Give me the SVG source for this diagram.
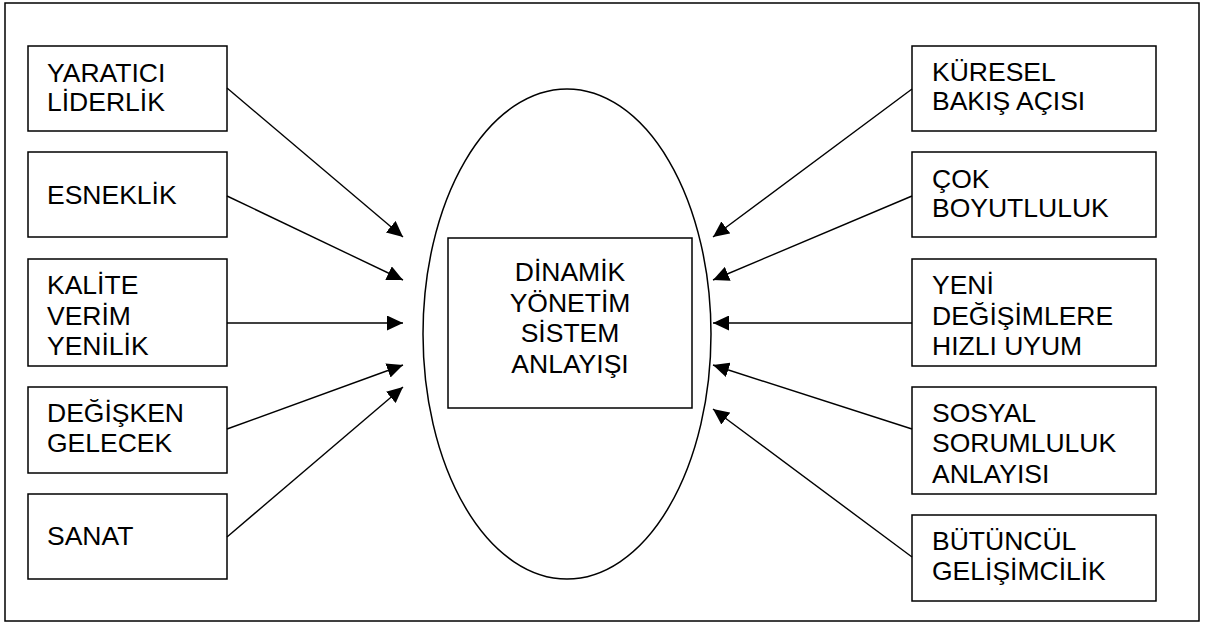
<svg xmlns="http://www.w3.org/2000/svg" width="1210" height="623" viewBox="0 0 1210 623">
  <style>
    .frame { fill: #ffffff; stroke: #000000; stroke-width: 1.5; }
    .box { fill: #ffffff; stroke: #000000; stroke-width: 1.5; }
    .oval { fill: #ffffff; stroke: #000000; stroke-width: 1.5; }
    .lbl { font-family: "Liberation Sans", Arial, sans-serif; font-size: 26.5px; fill: #000000; }
    .mid { text-anchor: middle; }
    .arrow { fill: none; stroke: #000000; stroke-width: 1.4; marker-end: url(#head); }
  </style>
  <defs>
    <marker id="head" markerUnits="userSpaceOnUse" markerWidth="17" markerHeight="15" refX="16" refY="7.5" orient="auto">
      <path d="M0,0 L16,7.5 L0,15 Z" fill="#000000"/>
    </marker>
  </defs>

  <rect class="frame" x="5" y="3" width="1194" height="618"/>

  <!-- central concept -->
  <g id="center">
    <ellipse class="oval" cx="567" cy="334" rx="144" ry="245"/>
    <rect class="box" x="448" y="238" width="244" height="170"/>
    <text class="lbl mid" x="570" y="281">DİNAMİK</text>
    <text class="lbl mid" x="570" y="312">YÖNETİM</text>
    <text class="lbl mid" x="570" y="342">SİSTEM</text>
    <text class="lbl mid" x="570" y="373">ANLAYIŞI</text>
  </g>

  <!-- left column -->
  <g id="yaratici-liderlik">
    <rect class="box" x="28" y="46" width="199" height="85"/>
    <text class="lbl" x="47" y="82">YARATICI</text>
    <text class="lbl" x="47" y="111">LİDERLİK</text>
  </g>
  <g id="esneklik">
    <rect class="box" x="28" y="152" width="199" height="85"/>
    <text class="lbl" x="47" y="204">ESNEKLİK</text>
  </g>
  <g id="kalite-verim-yenilik">
    <rect class="box" x="28" y="259" width="199" height="107"/>
    <text class="lbl" x="47" y="294">KALİTE</text>
    <text class="lbl" x="47" y="325">VERİM</text>
    <text class="lbl" x="47" y="355">YENİLİK</text>
  </g>
  <g id="degisken-gelecek">
    <rect class="box" x="28" y="387" width="199" height="86"/>
    <text class="lbl" x="47" y="422">DEĞİŞKEN</text>
    <text class="lbl" x="47" y="452">GELECEK</text>
  </g>
  <g id="sanat">
    <rect class="box" x="28" y="494" width="199" height="85"/>
    <text class="lbl" x="47" y="545">SANAT</text>
  </g>

  <!-- right column -->
  <g id="kuresel-bakis">
    <rect class="box" x="912" y="46" width="244" height="85"/>
    <text class="lbl" x="932" y="81">KÜRESEL</text>
    <text class="lbl" x="932" y="110">BAKIŞ AÇISI</text>
  </g>
  <g id="cok-boyutluluk">
    <rect class="box" x="912" y="152" width="244" height="85"/>
    <text class="lbl" x="932" y="188">ÇOK</text>
    <text class="lbl" x="932" y="217">BOYUTLULUK</text>
  </g>
  <g id="hizli-uyum">
    <rect class="box" x="912" y="259" width="244" height="107"/>
    <text class="lbl" x="932" y="294">YENİ</text>
    <text class="lbl" x="932" y="325">DEĞİŞİMLERE</text>
    <text class="lbl" x="932" y="355">HIZLI UYUM</text>
  </g>
  <g id="sosyal-sorumluluk">
    <rect class="box" x="912" y="387" width="244" height="107"/>
    <text class="lbl" x="932" y="422">SOSYAL</text>
    <text class="lbl" x="932" y="452">SORUMLULUK</text>
    <text class="lbl" x="932" y="483">ANLAYISI</text>
  </g>
  <g id="butuncul-gelisimcilik">
    <rect class="box" x="912" y="515" width="244" height="86"/>
    <text class="lbl" x="932" y="550">BÜTÜNCÜL</text>
    <text class="lbl" x="932" y="580">GELİŞİMCİLİK</text>
  </g>

  <!-- connectors -->
  <g id="connectors">
    <line class="arrow" x1="227" y1="88" x2="403" y2="237"/>
    <line class="arrow" x1="227" y1="196" x2="403" y2="280"/>
    <line class="arrow" x1="227" y1="323" x2="403" y2="323"/>
    <line class="arrow" x1="227" y1="429" x2="403" y2="365"/>
    <line class="arrow" x1="227" y1="537" x2="403" y2="387"/>
    <line class="arrow" x1="912" y1="89" x2="713" y2="237"/>
    <line class="arrow" x1="912" y1="196" x2="713" y2="280"/>
    <line class="arrow" x1="912" y1="323" x2="713" y2="323"/>
    <line class="arrow" x1="912" y1="429" x2="713" y2="365"/>
    <line class="arrow" x1="912" y1="557" x2="713" y2="409"/>
  </g>
</svg>
